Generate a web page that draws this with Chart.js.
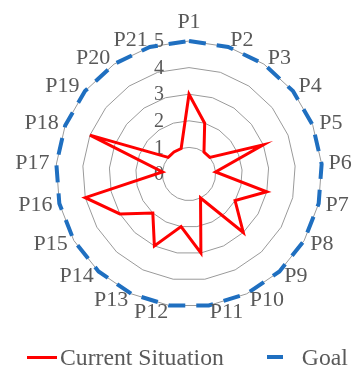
<!DOCTYPE html>
<html>
<head>
<meta charset="utf-8">
<script src="https://cdn.jsdelivr.net/npm/chart.js@4.4.1/dist/chart.umd.min.js"></script>
<style>
  html, body { margin: 0; padding: 0; background: #fff; }
  #wrap { position: relative; width: 353px; height: 367px; overflow: hidden; }
  #legend {
    position: absolute; left: 27px; top: 345px;
    display: flex; align-items: center;
    font: 23.7px/24px "Liberation Serif", serif; color: #595959; white-space: nowrap;
  }
  #legend .line { display: inline-block; width: 30px; height: 3px; background: #ff0000; margin-right: 3px; }
  #legend .dash { display: inline-block; width: 16px; height: 4px; background: #1f6fc0; margin: 0 19px 0 43px; }
</style>
</head>
<body>
<div id="wrap">
  <canvas id="chart" width="353" height="367"></canvas>
  <div id="legend"></div>
</div>
<script>
// Data
const categories = ['P1', 'P2', 'P3', 'P4', 'P5', 'P6', 'P7', 'P8', 'P9', 'P10', 'P11',
  'P12', 'P13', 'P14', 'P15', 'P16', 'P17', 'P18', 'P19', 'P20', 'P21'];
const currentValues = [3, 2, 1, 1, 3, 1, 3, 2, 3, 1, 3, 2, 3, 2, 3, 4, 1, 4, 1, 1, 1];
const goalValues = [5, 5, 5, 5, 5, 5, 5, 5, 5, 5, 5, 5, 5, 5, 5, 5, 5, 5, 5, 5, 5];
const tickLabels = ['0', '1', '2', '3', '4', '5'];

const FONT = 'Liberation Serif';
const TEXT_GREY = '#595959';
const RED = '#ff0000';
const BLUE = '#1f6fc0';

// Excel-style tick labels, sitting left of the vertical axis
const tickLabelPlugin = {
  id: 'tickLabels',
  beforeDatasetsDraw(chart) {
    const r = chart.scales.r;
    const ctx = chart.ctx;
    ctx.save();
    ctx.font = '20px "' + FONT + '"';
    ctx.fillStyle = TEXT_GREY;
    ctx.textAlign = 'center';
    ctx.textBaseline = 'middle';
    tickLabels.forEach(t => {
      const d = r.getDistanceFromCenterForValue(Number(t));
      ctx.fillText(t, r.xCenter - 30, r.yCenter - d + 1);
    });
    ctx.restore();
  }
};

// Excel-style category labels: left/right aligned, vertically centred on the spoke
const pointLabelPlugin = {
  id: 'excelPointLabels',
  afterDraw(chart) {
    const r = chart.scales.r;
    const ctx = chart.ctx;
    ctx.save();
    ctx.font = '22px "' + FONT + '"';
    ctx.fillStyle = TEXT_GREY;
    categories.forEach((label, i) => {
      const angle = r.getIndexAngle(i);
      const pos = r.getPointPosition(i, r.drawingArea + 7);
      const s = Math.sin(angle);
      if (Math.abs(s) < 0.01) {
        ctx.textAlign = 'center';
        ctx.textBaseline = 'alphabetic';
        ctx.fillText(label, pos.x, pos.y - 6);
      } else {
        ctx.textAlign = s > 0 ? 'left' : 'right';
        ctx.textBaseline = 'middle';
        ctx.fillText(label, pos.x, pos.y);
      }
    });
    ctx.restore();
  }
};

const ctx = document.getElementById('chart').getContext('2d');
const chart = new Chart(ctx, {
  type: 'radar',
  data: {
    labels: categories,
    datasets: [{
      label: 'Current Situation',
      data: currentValues,
      borderColor: RED,
      backgroundColor: RED,
      borderWidth: 3,
      pointRadius: 0,
      fill: false
    }, {
      label: 'Goal',
      data: goalValues,
      borderColor: BLUE,
      backgroundColor: BLUE,
      borderWidth: 4,
      borderDash: [17, 11],
      pointRadius: 0,
      fill: false
    }]
  },
  options: {
    responsive: false,
    animation: false,
    devicePixelRatio: 1,
    layout: { padding: { left: 56, right: 31, top: 41, bottom: 60 } },
    scales: {
      r: {
        min: 0,
        max: 5,
        ticks: { stepSize: 1, display: false },
        grid: { color: '#9a9a9a', lineWidth: 1 },
        angleLines: { display: false },
        pointLabels: { display: false }
      }
    },
    plugins: {
      tooltip: { enabled: false },
      legend: { display: false }
    }
  },
  plugins: [tickLabelPlugin, pointLabelPlugin]
});

// HTML legend built from the datasets
const legend = document.getElementById('legend');
chart.data.datasets.forEach((ds, i) => {
  const mark = document.createElement('span');
  mark.className = i === 0 ? 'line' : 'dash';
  const text = document.createElement('span');
  text.textContent = ds.label;
  legend.appendChild(mark);
  legend.appendChild(text);
});
</script>
</body>
</html>
